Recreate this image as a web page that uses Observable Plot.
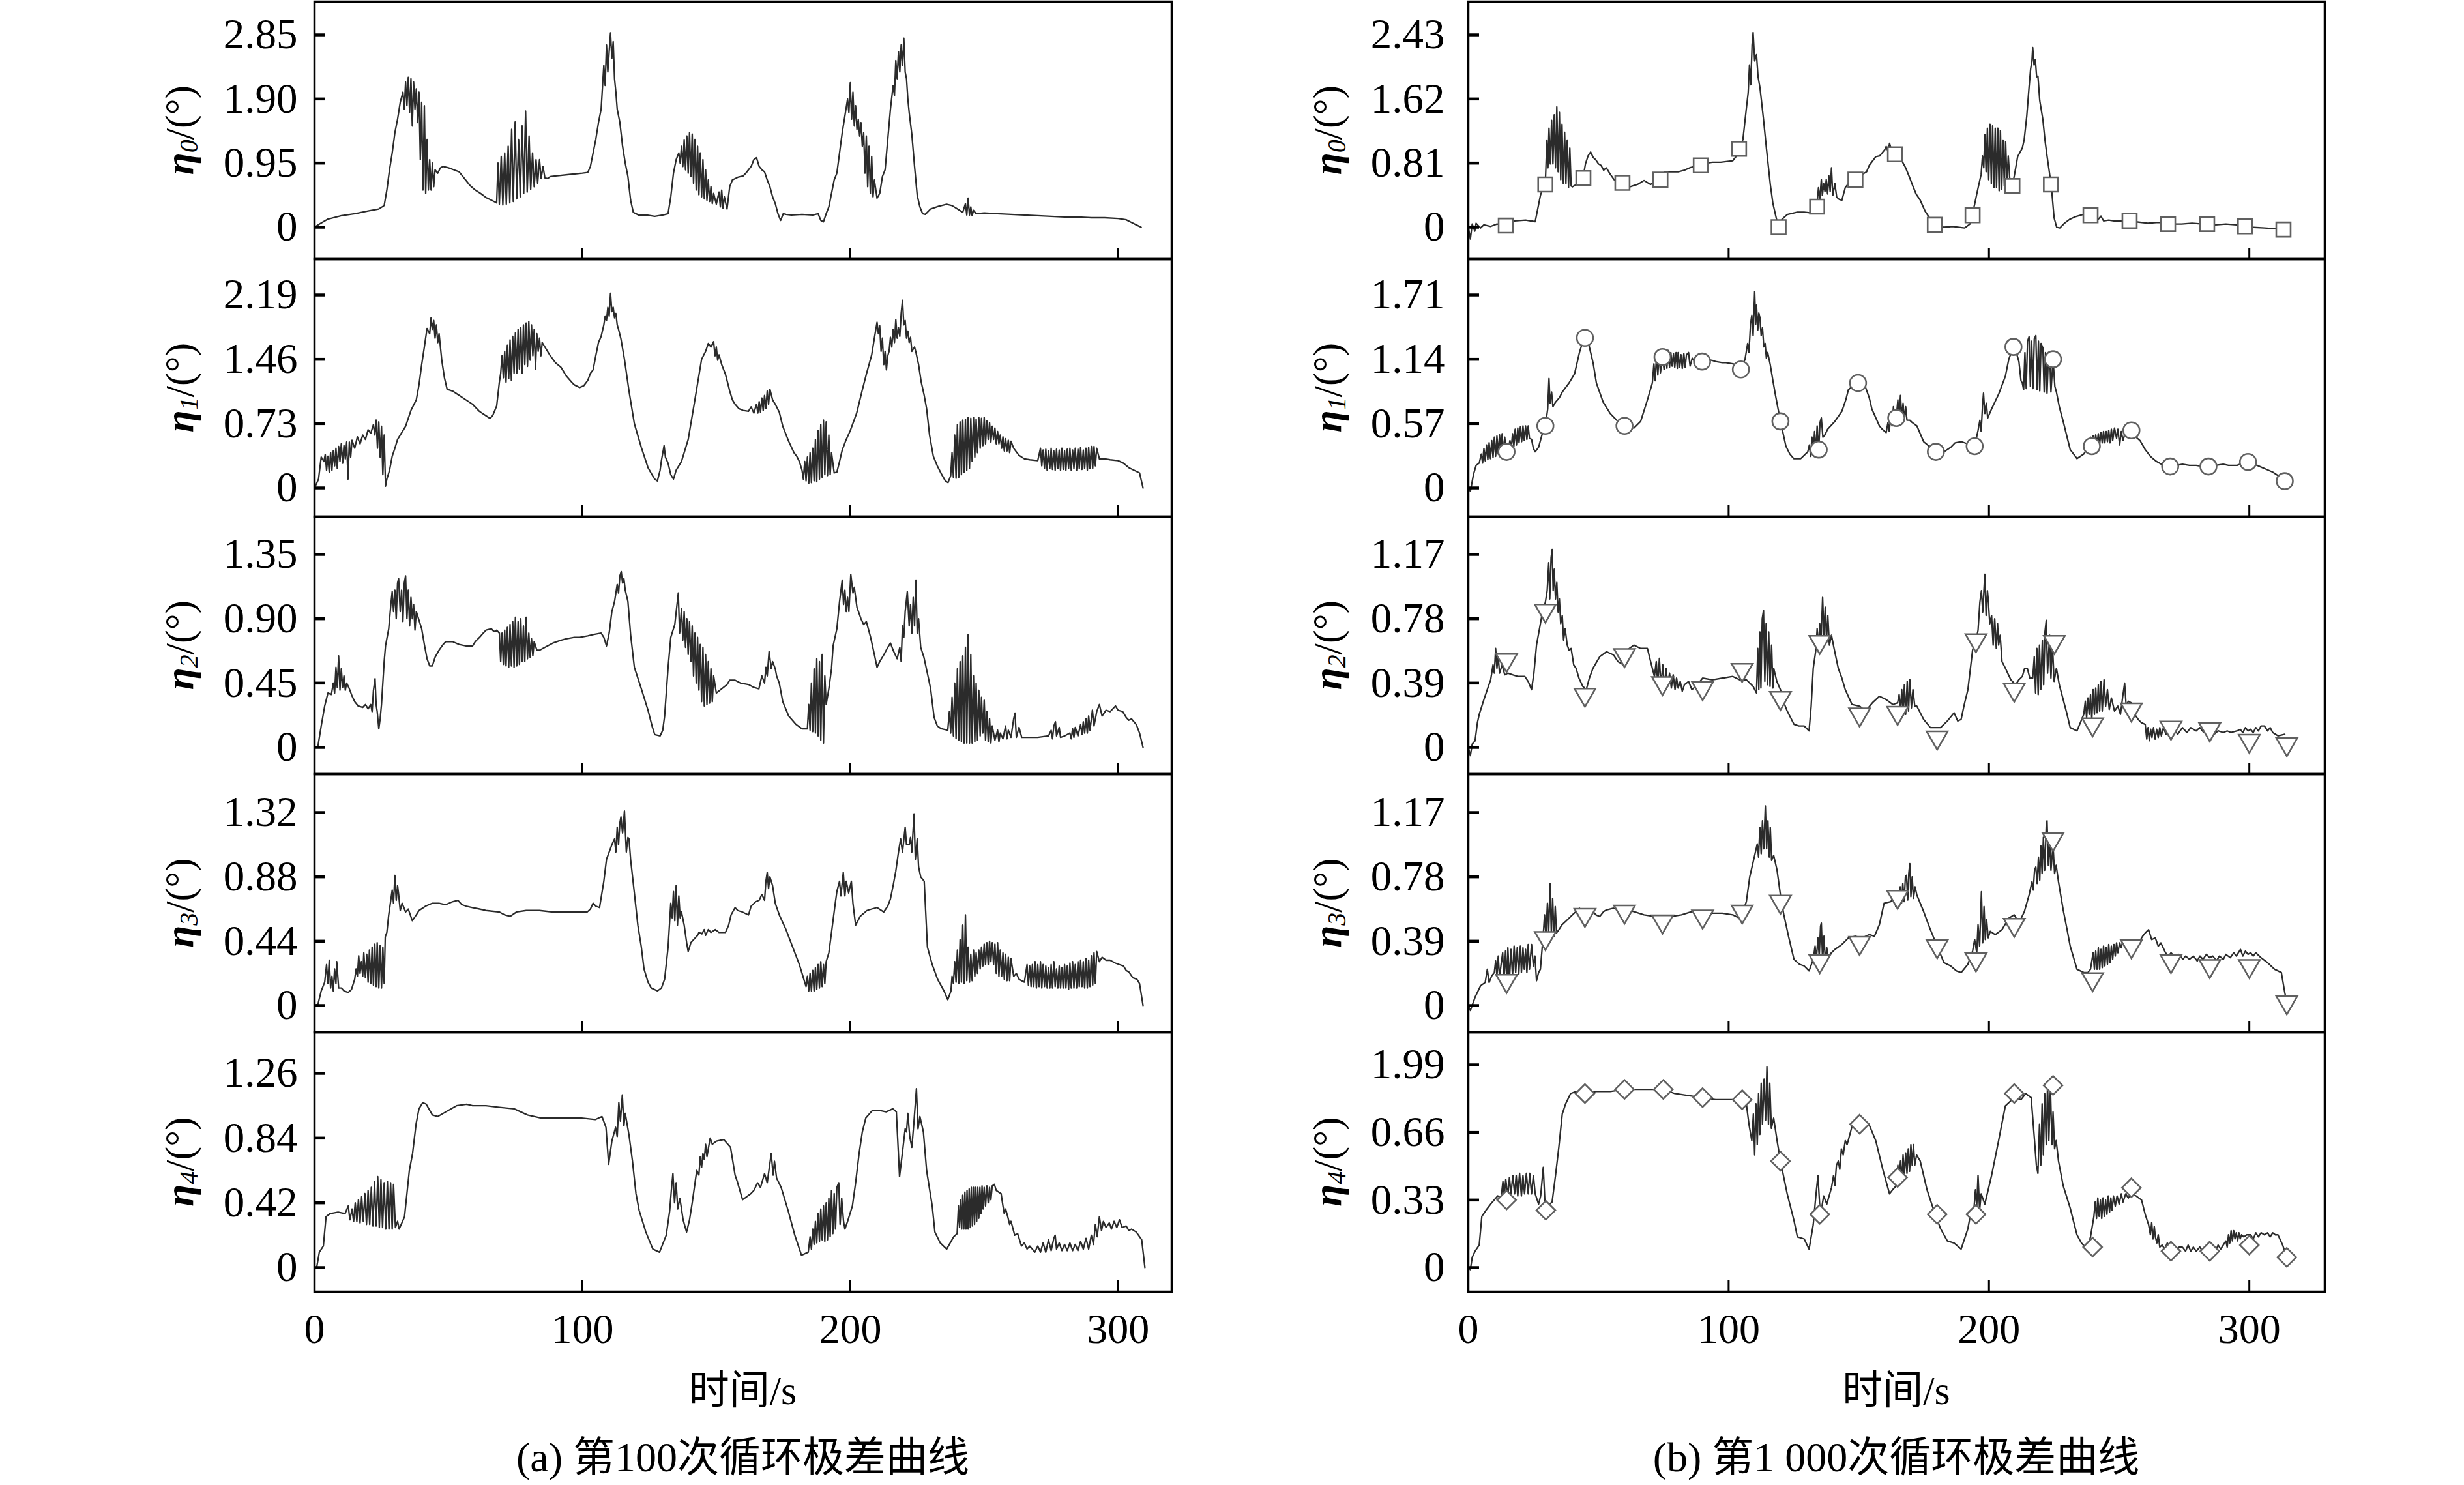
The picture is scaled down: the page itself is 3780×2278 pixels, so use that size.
<!DOCTYPE html>
<html><head><meta charset="utf-8">
<script src="https://cdn.jsdelivr.net/npm/d3@7"></script>
<script src="https://cdn.jsdelivr.net/npm/@observablehq/plot@0.6"></script>
<style>
html,body{margin:0;padding:0;background:#fff;}
#chart{position:relative;width:3780px;height:2278px;overflow:hidden;background:#fff;}
.panel{position:absolute;}
.lbl{position:absolute;transform:translateX(-50%);white-space:nowrap;color:#000;font-family:"Liberation Serif","Noto Sans CJK SC",serif;line-height:1;}
</style></head><body><div id="chart"></div>
<script>
// ---------- tick values & labels ----------
const timeTicks = [0, 100, 200, 300];
const ticksA = [[0,0.95,1.90,2.85],[0,0.73,1.46,2.19],[0,0.45,0.90,1.35],[0,0.44,0.88,1.32],[0,0.42,0.84,1.26]];
const labelsA = [["0","0.95","1.90","2.85"],["0","0.73","1.46","2.19"],["0","0.45","0.90","1.35"],["0","0.44","0.88","1.32"],["0","0.42","0.84","1.26"]];
const ticksB = [[0,0.81,1.62,2.43],[0,0.57,1.14,1.71],[0,0.39,0.78,1.17],[0,0.39,0.78,1.17],[0,0.33,0.66,0.99]];
const labelsB = [["0","0.81","1.62","2.43"],["0","0.57","1.14","1.71"],["0","0.39","0.78","1.17"],["0","0.39","0.78","1.17"],["0","0.33","0.66","1.99"]];
const subs = ["0","1","2","3","4"];
const captions = ["(a) 第100次循环极差曲线", "(b) 第1 000次循环极差曲线"];
const xTitle = "时间/s";

// ---------- (a) 100th cycle: [time s, range deg] ----------
const etaA0 = [[0,0],[2,0.05],[5,0.12],[10,0.17],[15,0.2],[20,0.24],[24,0.27],[26,0.32],[27,0.55],[28,0.85],[29,1.1],[30,1.4],[31,1.6],[32,1.85],[33,2.0],[33.5,1.75],[34,2.15],[34.5,1.8],[35,2.22],[35.5,1.7],[36,2.2],[36.5,1.5],[37,2.15],[37.5,1.75],[38,2.05],[38.5,1.55],[39,2.0],[39.5,1.0],[40,1.85],[40.5,0.55],[41,1.8],[41.5,0.5],[42,1.3],[42.5,0.55],[43,1.0],[43.5,0.55],[44,0.95],[44.5,0.6],[45,0.85],[46,0.8],[47,0.88],[48,0.9],[50,0.88],[52,0.85],[54,0.82],[56,0.72],[58,0.62],[60,0.55],[62,0.5],[64,0.44],[66,0.4],[68,0.36],[68.5,0.95],[69,0.34],[69.7,1.05],[70.3,0.33],[71,1.1],[71.6,0.34],[72.3,1.2],[72.9,0.36],[73.6,1.45],[74.2,0.38],[74.9,1.56],[75.5,0.42],[76.2,1.3],[76.8,0.45],[77.5,1.5],[78.1,0.5],[78.8,1.72],[79.4,0.52],[80.1,1.35],[80.7,0.56],[81.4,1.1],[82,0.6],[82.7,1.0],[83.3,0.65],[84,1.0],[84.6,0.72],[85.3,0.9],[86,0.73],[87,0.72],[88,0.75],[90,0.76],[95,0.78],[100,0.8],[102,0.81],[103,0.9],[104,1.1],[105,1.3],[106,1.55],[107,1.75],[108,2.4],[108.5,2.1],[109,2.7],[109.5,2.3],[110,2.6],[110.5,2.88],[111,2.5],[111.5,2.75],[112,2.2],[112.5,2.0],[113,1.75],[114,1.55],[115,1.2],[116,0.95],[117,0.75],[118,0.4],[119,0.22],[121,0.18],[124,0.18],[127,0.16],[130,0.18],[132,0.2],[133,0.45],[134,0.8],[135,1.0],[136,1.1],[136.5,0.95],[137,1.2],[137.5,0.9],[138,1.3],[138.5,0.85],[139,1.35],[139.5,0.8],[140,1.4],[140.5,0.75],[141,1.38],[141.5,0.65],[142,1.3],[142.5,0.55],[143,1.2],[143.5,0.48],[144,1.1],[144.5,0.45],[145,1.0],[145.5,0.42],[146,0.85],[146.5,0.4],[147,0.7],[147.5,0.38],[148,0.6],[148.5,0.35],[149,0.5],[150,0.34],[151,0.52],[151.5,0.3],[152,0.55],[152.5,0.28],[153,0.45],[154,0.27],[155,0.6],[156,0.7],[157,0.72],[158,0.74],[160,0.76],[161,0.8],[162,0.85],[163,0.9],[164,1.0],[165,1.03],[166,0.9],[167,0.85],[168,0.82],[169,0.7],[170,0.6],[171,0.45],[172,0.35],[173,0.2],[174,0.1],[175,0.2],[176,0.19],[178,0.18],[182,0.19],[186,0.18],[188,0.2],[189,0.1],[190,0.08],[191,0.2],[192,0.3],[193,0.5],[194,0.7],[195,0.8],[196,1.1],[197,1.4],[198,1.65],[199,1.9],[199.5,1.7],[200,2.14],[200.5,1.6],[201,2.0],[201.5,1.5],[202,1.8],[202.5,1.45],[203,1.6],[203.5,1.35],[204,1.55],[204.5,1.2],[205,1.4],[205.5,0.8],[206,1.35],[206.5,0.6],[207,1.2],[207.5,0.5],[208,1.05],[208.5,0.45],[209,0.7],[210,0.43],[211,0.5],[212,0.75],[213,0.85],[214,1.3],[215,1.75],[216,2.1],[216.5,1.95],[217,2.47],[217.5,2.2],[218,2.6],[218.5,2.3],[219,2.7],[219.5,2.4],[220,2.8],[220.5,2.3],[221,2.2],[221.5,1.9],[222,1.7],[223,1.37],[224,0.9],[225,0.47],[226,0.3],[227,0.2],[228,0.19],[230,0.27],[233,0.31],[236,0.34],[238,0.32],[240,0.27],[242,0.22],[243,0.35],[243.5,0.18],[244,0.43],[244.5,0.18],[245,0.3],[245.5,0.17],[246,0.25],[247,0.2],[250,0.21],[255,0.2],[260,0.19],[265,0.18],[270,0.17],[275,0.16],[280,0.15],[285,0.15],[290,0.14],[295,0.14],[300,0.13],[303,0.11],[305,0.07],[307,0.03],[308.6,0.0]];

const etaA1 = [[0,0],[1.5,0.1],[2.5,0.35],[3.5,0.3],[4,0.38],[4.5,0.2],[5,0.36],[5.5,0.18],[6,0.4],[6.5,0.2],[7,0.42],[7.5,0.25],[8,0.45],[8.5,0.22],[9,0.47],[9.5,0.3],[10,0.5],[10.5,0.28],[11,0.48],[11.5,0.33],[12,0.52],[12.5,0.1],[13,0.52],[13.5,0.35],[14,0.54],[15,0.45],[16,0.58],[17,0.5],[18,0.6],[19,0.55],[20,0.66],[21,0.62],[22,0.72],[22.5,0.6],[23,0.77],[23.5,0.45],[24,0.75],[24.5,0.35],[25,0.7],[25.5,0.15],[26,0.6],[26.5,0.02],[27,0.1],[28,0.2],[29,0.36],[30,0.45],[31,0.55],[32,0.6],[34,0.7],[36,0.88],[38,1.0],[39,1.17],[40,1.4],[41,1.6],[42,1.81],[43,1.75],[43.5,1.93],[44,1.8],[44.5,1.9],[45,1.7],[45.5,1.85],[46,1.65],[46.5,1.75],[47.5,1.45],[48.5,1.25],[49.5,1.12],[51.5,1.1],[54,1.05],[56.5,1.0],[59,0.95],[61.5,0.87],[64,0.82],[65.5,0.79],[66.5,0.82],[68,0.93],[69,1.2],[69.5,1.3],[70,1.5],[70.5,1.25],[71,1.55],[71.5,1.2],[72,1.62],[72.5,1.24],[73,1.68],[73.5,1.22],[74,1.72],[74.5,1.3],[75,1.76],[75.5,1.3],[76,1.8],[76.5,1.35],[77,1.82],[77.5,1.3],[78,1.85],[78.5,1.4],[79,1.87],[79.5,1.38],[80,1.89],[80.5,1.45],[81,1.85],[81.5,1.5],[82,1.8],[82.5,1.35],[83,1.75],[83.5,1.55],[84,1.7],[84.5,1.5],[85,1.65],[86,1.6],[87,1.55],[88,1.5],[89,1.46],[90,1.42],[92,1.37],[94,1.27],[96,1.2],[97,1.17],[99,1.14],[100.5,1.16],[102,1.22],[103,1.3],[104,1.34],[105,1.5],[106,1.65],[107,1.72],[108,1.85],[108.5,1.95],[109,1.9],[109.5,2.05],[110,1.95],[110.5,2.21],[111,2.0],[111.5,2.05],[112,1.93],[112.5,1.98],[113,1.85],[113.5,1.8],[114.4,1.69],[115.7,1.46],[117.4,1.1],[119.4,0.73],[122,0.46],[124.5,0.23],[126,0.15],[127,0.1],[128,0.08],[129,0.2],[129.5,0.31],[130.5,0.48],[131,0.35],[132,0.28],[133,0.15],[134,0.1],[135,0.2],[137,0.3],[139.5,0.55],[142,1.0],[144.5,1.46],[146,1.55],[147,1.64],[148,1.6],[149,1.66],[149.5,1.5],[150,1.6],[150.5,1.45],[151,1.51],[152,1.4],[153.4,1.29],[155,1.1],[156,1.0],[157,0.95],[158.4,0.9],[160,0.88],[162,0.87],[163,0.92],[164,0.85],[165,0.95],[165.5,0.85],[166,0.98],[166.5,0.86],[167,1.02],[167.5,0.88],[168,1.05],[168.5,0.9],[169,1.1],[169.5,0.95],[170,1.12],[171,1.0],[172,0.95],[173.5,0.86],[174.8,0.7],[177,0.53],[179,0.4],[180,0.36],[181,0.3],[182,0.2],[182.5,0.1],[183,0.3],[183.5,0.08],[184,0.35],[184.5,0.05],[185,0.4],[185.5,0.06],[186,0.45],[186.5,0.08],[187,0.55],[187.5,0.07],[188,0.65],[188.5,0.1],[189,0.72],[189.5,0.12],[190,0.77],[190.5,0.15],[191,0.75],[191.5,0.14],[192,0.6],[192.5,0.15],[193,0.4],[194,0.17],[195,0.18],[196,0.3],[197,0.43],[198.5,0.55],[200,0.65],[202.4,0.85],[204.4,1.1],[206,1.29],[207,1.4],[208,1.51],[209,1.7],[210,1.88],[210.5,1.75],[211,1.84],[211.5,1.55],[212,1.7],[212.5,1.4],[213,1.55],[213.5,1.34],[214,1.5],[214.5,1.55],[215,1.71],[215.5,1.6],[216,1.8],[216.5,1.65],[217,1.91],[217.5,1.7],[218,1.82],[218.5,1.72],[219,1.98],[219.5,2.13],[220,1.85],[220.5,1.9],[221,1.7],[221.5,1.78],[222,1.65],[222.5,1.71],[223,1.55],[224,1.6],[224.5,1.54],[225.5,1.4],[226.5,1.2],[227.6,1.05],[228.5,0.9],[229.6,0.6],[231,0.36],[232.5,0.25],[234,0.16],[235.5,0.08],[236.5,0.06],[237.5,0.14],[238,0.4],[238.5,0.12],[239,0.6],[239.5,0.11],[240,0.72],[240.5,0.12],[241,0.75],[241.5,0.15],[242,0.77],[242.5,0.18],[243,0.78],[243.5,0.2],[244,0.8],[244.5,0.22],[245,0.79],[245.5,0.3],[246,0.8],[246.5,0.35],[247,0.78],[247.5,0.4],[248,0.8],[248.5,0.45],[249,0.79],[249.5,0.48],[250,0.8],[250.5,0.5],[251,0.76],[251.5,0.55],[252,0.74],[252.5,0.52],[253,0.7],[253.5,0.55],[254,0.68],[254.5,0.5],[255,0.64],[255.5,0.5],[256,0.6],[256.5,0.45],[257,0.58],[257.5,0.42],[258,0.56],[258.5,0.42],[259,0.54],[259.5,0.4],[260,0.53],[261,0.45],[262,0.41],[263,0.37],[265,0.33],[267,0.32],[270,0.31],[271,0.45],[271.5,0.25],[272,0.43],[272.5,0.22],[273,0.44],[273.5,0.2],[274,0.42],[274.5,0.22],[275,0.45],[275.5,0.21],[276,0.42],[276.5,0.2],[277,0.44],[277.5,0.22],[278,0.43],[278.5,0.2],[279,0.45],[279.5,0.21],[280,0.42],[280.5,0.2],[281,0.44],[281.5,0.22],[282,0.45],[282.5,0.2],[283,0.43],[283.5,0.22],[284,0.45],[284.5,0.2],[285,0.44],[285.5,0.22],[286,0.46],[286.5,0.21],[287,0.43],[287.5,0.22],[288,0.45],[288.5,0.2],[289,0.46],[289.5,0.22],[290,0.47],[290.5,0.22],[291,0.47],[291.5,0.25],[292,0.45],[293,0.33],[295,0.33],[297,0.32],[300,0.31],[302,0.28],[304,0.23],[306,0.2],[308,0.17],[309.3,0.0]];

const etaA2 = [[0,0],[1.3,0.01],[2.5,0.15],[3.8,0.29],[5,0.38],[6.3,0.37],[7,0.45],[7.5,0.38],[8,0.56],[8.5,0.42],[9,0.64],[9.5,0.4],[10,0.55],[10.5,0.42],[11,0.5],[11.5,0.4],[12,0.45],[13,0.41],[14,0.36],[15,0.32],[16.3,0.29],[18,0.28],[19,0.3],[20,0.27],[21,0.3],[21.5,0.25],[22,0.4],[22.6,0.48],[23,0.3],[23.4,0.25],[24,0.13],[24.5,0.2],[25,0.3],[26,0.6],[26.5,0.71],[27.7,0.83],[28.5,1.0],[29,1.09],[29.5,0.95],[30,1.1],[30.5,0.9],[31,1.15],[31.4,1.18],[32,0.95],[32.5,1.1],[33,0.88],[33.5,1.15],[34,1.2],[34.5,0.9],[35,1.1],[35.5,0.85],[36,1.05],[36.5,0.9],[37,1.0],[37.5,0.82],[38,0.95],[39,0.89],[40,0.83],[41,0.72],[42,0.62],[43,0.57],[44,0.57],[45,0.63],[46.5,0.68],[48,0.72],[49,0.74],[51.5,0.74],[54,0.72],[56.6,0.71],[59,0.71],[60,0.74],[61.6,0.77],[63,0.8],[64,0.82],[66,0.83],[67,0.81],[68,0.82],[69,0.8],[69.5,0.6],[70,0.8],[70.5,0.58],[71,0.82],[71.5,0.57],[72,0.84],[72.5,0.56],[73,0.86],[73.5,0.57],[74,0.88],[74.5,0.56],[75,0.91],[75.5,0.57],[76,0.88],[76.5,0.58],[77,0.9],[77.5,0.6],[78,0.85],[78.5,0.6],[79,0.91],[79.5,0.62],[80,0.8],[80.5,0.63],[81,0.76],[81.5,0.64],[82,0.74],[83,0.68],[84,0.68],[86,0.7],[89,0.73],[92,0.75],[94,0.76],[97,0.77],[99,0.77],[102,0.78],[104,0.79],[107,0.8],[108,0.77],[109,0.71],[110,0.8],[111,0.95],[112,1.02],[113,1.14],[113.5,1.08],[114,1.2],[114.5,1.23],[115,1.15],[115.5,1.18],[116,1.1],[117,1.02],[118,0.79],[119.4,0.56],[122,0.41],[124.5,0.26],[126,0.15],[127,0.09],[129,0.08],[130,0.12],[130.7,0.22],[132,0.56],[133,0.77],[134.5,0.86],[135.8,1.08],[136.3,0.8],[137,0.97],[137.5,0.75],[138,0.95],[138.5,0.7],[139,0.9],[139.5,0.65],[140,0.88],[140.5,0.6],[141,0.85],[141.5,0.5],[142,0.8],[142.5,0.45],[143,0.77],[143.5,0.4],[144,0.72],[144.5,0.32],[145,0.7],[145.5,0.29],[146,0.65],[146.5,0.3],[147,0.6],[147.5,0.31],[148,0.55],[148.5,0.32],[149,0.5],[150,0.38],[152,0.41],[154,0.44],[155,0.47],[157,0.47],[159,0.45],[162,0.44],[164,0.42],[165.9,0.41],[167,0.5],[168,0.45],[168.5,0.56],[169,0.5],[169.7,0.67],[170.5,0.55],[171,0.6],[172,0.55],[172.5,0.5],[173.5,0.45],[174.8,0.32],[177,0.22],[179.8,0.16],[182,0.13],[184,0.13],[184.5,0.3],[185,0.12],[185.5,0.45],[186,0.11],[186.5,0.55],[187,0.1],[187.5,0.62],[188,0.08],[188.5,0.6],[189,0.05],[189.5,0.65],[190,0.03],[190.5,0.5],[191,0.3],[192,0.41],[193,0.55],[193.6,0.71],[195,0.83],[196,1.02],[197,1.17],[197.5,1.0],[198,1.1],[198.5,0.95],[199,1.05],[199.5,0.95],[200.2,1.21],[201,1.08],[201.5,1.12],[202.5,0.98],[204,0.9],[205,0.86],[206,0.88],[207.6,0.77],[209,0.65],[210,0.56],[211,0.6],[212.6,0.65],[214,0.7],[215,0.73],[216,0.68],[217.5,0.62],[218.5,0.7],[219,0.6],[219.5,0.85],[220,0.77],[220.5,0.95],[221.3,1.09],[222,0.85],[222.5,1.0],[223,0.8],[223.5,1.05],[224,0.85],[224.5,1.17],[225,0.8],[225.5,0.9],[226.3,0.7],[227.5,0.63],[229,0.5],[230,0.41],[231.3,0.21],[232.5,0.15],[234,0.13],[236.4,0.12],[237,0.25],[237.5,0.1],[238,0.35],[238.5,0.08],[239,0.45],[239.5,0.06],[240,0.55],[240.5,0.05],[241,0.6],[241.5,0.04],[242,0.64],[242.5,0.03],[243,0.7],[243.5,0.03],[244,0.79],[244.5,0.03],[245,0.65],[245.5,0.03],[246,0.5],[246.5,0.04],[247,0.45],[247.5,0.05],[248,0.4],[248.5,0.08],[249,0.35],[249.5,0.1],[250,0.33],[250.5,0.05],[251,0.25],[251.5,0.04],[252,0.2],[252.5,0.03],[253,0.15],[254,0.05],[255,0.12],[255.5,0.04],[256,0.1],[257,0.06],[258,0.15],[258.5,0.06],[259,0.12],[260,0.07],[261,0.2],[261.5,0.24],[262,0.07],[263,0.14],[264,0.07],[266,0.07],[270,0.07],[274,0.08],[275,0.12],[275.5,0.06],[276,0.15],[276.6,0.18],[277,0.08],[278,0.14],[278.5,0.07],[280,0.08],[282,0.1],[282.5,0.06],[283,0.13],[283.5,0.07],[284,0.14],[285,0.08],[286,0.16],[286.5,0.09],[287,0.18],[287.5,0.1],[288,0.2],[288.5,0.1],[289,0.22],[289.5,0.12],[290.4,0.26],[291,0.15],[292,0.25],[293,0.3],[294,0.22],[295.5,0.26],[297,0.25],[299,0.29],[300,0.26],[301.7,0.25],[303,0.21],[304,0.19],[305,0.2],[306.8,0.16],[308,0.1],[309.3,0.0]];

const etaA3 = [[0,0],[1.3,0.01],[2.5,0.1],[3.8,0.16],[4.5,0.28],[5,0.15],[5.5,0.31],[6,0.12],[6.5,0.2],[7,0.1],[7.5,0.25],[8,0.15],[8.3,0.3],[9,0.12],[10,0.12],[11,0.1],[12.6,0.09],[13.8,0.11],[15,0.18],[15.5,0.25],[16,0.2],[16.5,0.34],[17,0.22],[17.5,0.3],[18,0.2],[18.4,0.36],[19,0.19],[19.5,0.35],[20,0.16],[20.5,0.38],[21,0.15],[21.5,0.4],[22,0.14],[22.5,0.42],[23,0.13],[23.4,0.43],[24,0.12],[24.5,0.41],[25,0.12],[25.5,0.4],[26,0.15],[26.4,0.47],[27,0.5],[27.7,0.62],[29,0.79],[29.5,0.7],[30,0.89],[30.5,0.72],[31,0.82],[31.4,0.76],[32,0.65],[32.7,0.7],[34,0.64],[35,0.66],[36.5,0.58],[38,0.62],[39,0.65],[41.5,0.68],[44,0.7],[46.5,0.7],[49,0.69],[51.5,0.71],[53.5,0.72],[55,0.69],[56.6,0.68],[59,0.67],[61.6,0.66],[64,0.65],[69,0.64],[71,0.62],[73,0.61],[75.4,0.64],[79,0.65],[84,0.65],[89,0.64],[94,0.64],[99,0.64],[101.8,0.64],[103,0.66],[104,0.7],[105,0.68],[106.4,0.67],[108,0.85],[109,1.0],[110,1.05],[111,1.1],[112,1.14],[112.5,1.05],[113,1.22],[113.5,1.1],[114,1.25],[114.4,1.29],[115,1.18],[115.7,1.33],[116.4,1.05],[117,1.15],[117.4,1.14],[118,1.0],[119.4,0.77],[120.7,0.55],[122,0.4],[123,0.25],[124.5,0.16],[125.7,0.12],[128,0.1],[129.5,0.12],[130.7,0.18],[132,0.4],[133,0.7],[133.5,0.6],[134,0.78],[134.5,0.58],[135,0.82],[135.5,0.55],[136,0.75],[136.5,0.6],[137,0.64],[138,0.55],[139,0.42],[139.5,0.37],[140.5,0.43],[142,0.46],[143,0.48],[143.5,0.5],[144.6,0.49],[145.5,0.52],[146,0.48],[147,0.52],[148,0.5],[149.6,0.52],[151,0.5],[153.4,0.5],[154.6,0.55],[155.5,0.62],[157,0.67],[158,0.65],[159.7,0.64],[162,0.62],[163,0.68],[164.7,0.71],[166,0.72],[167,0.76],[168,0.72],[168.5,0.85],[169,0.91],[169.5,0.8],[170,0.88],[171,0.82],[172,0.7],[173.5,0.62],[176,0.52],[178.5,0.4],[181,0.28],[182,0.22],[183.5,0.13],[184,0.2],[184.5,0.1],[185,0.22],[185.5,0.1],[186,0.24],[186.5,0.1],[187,0.26],[187.5,0.11],[188,0.28],[188.5,0.12],[189,0.3],[189.5,0.13],[190,0.28],[190.5,0.15],[191,0.3],[192,0.36],[193,0.5],[194.4,0.7],[195,0.78],[196,0.85],[196.5,0.75],[197.4,0.91],[198,0.75],[198.5,0.85],[199.4,0.77],[200.4,0.85],[201,0.7],[202,0.55],[203.7,0.61],[205,0.63],[206.2,0.65],[208,0.66],[210,0.67],[212.5,0.64],[214,0.68],[215,0.73],[216,0.82],[217,0.92],[218,1.05],[218.8,1.14],[219.5,1.05],[220.5,1.22],[221,1.1],[222,1.1],[222.5,1.15],[223,1.05],[223.8,1.31],[224.3,1.0],[225,1.14],[225.5,0.95],[226.3,0.88],[227.6,0.85],[228.8,0.4],[230.6,0.28],[232.6,0.18],[235,0.1],[236.4,0.04],[237.6,0.1],[238,0.2],[238.5,0.15],[239,0.3],[239.5,0.16],[240,0.38],[240.5,0.15],[241,0.45],[241.5,0.16],[242,0.55],[242.5,0.15],[243,0.62],[243.5,0.17],[244,0.4],[244.5,0.16],[245,0.35],[245.5,0.17],[246,0.38],[246.5,0.2],[247,0.36],[247.5,0.22],[248,0.38],[248.5,0.25],[249,0.4],[249.5,0.27],[250,0.42],[250.5,0.28],[251,0.43],[251.5,0.28],[252,0.44],[252.5,0.3],[253,0.43],[253.5,0.28],[254,0.42],[254.5,0.22],[255,0.43],[255.5,0.2],[256,0.38],[256.5,0.2],[257,0.36],[257.5,0.18],[258,0.35],[258.5,0.17],[259,0.33],[259.5,0.17],[260,0.32],[261,0.2],[262,0.22],[263,0.18],[265,0.16],[266,0.28],[266.5,0.14],[267,0.27],[267.5,0.13],[268,0.28],[268.5,0.13],[269,0.3],[269.5,0.12],[270,0.28],[270.5,0.13],[271,0.3],[271.5,0.12],[272,0.28],[272.5,0.13],[273,0.27],[273.5,0.12],[274,0.26],[274.5,0.12],[275,0.28],[275.5,0.12],[276,0.3],[276.5,0.13],[277,0.25],[277.5,0.12],[278,0.27],[278.5,0.12],[279,0.26],[279.5,0.12],[280,0.28],[280.5,0.12],[281,0.27],[281.5,0.11],[282,0.29],[282.5,0.12],[283,0.3],[283.5,0.12],[284,0.28],[284.5,0.12],[285,0.3],[285.5,0.13],[286,0.31],[286.5,0.13],[287,0.3],[287.5,0.12],[288,0.32],[288.5,0.12],[289,0.31],[289.5,0.13],[290,0.34],[290.5,0.14],[291,0.36],[291.5,0.15],[292,0.37],[293,0.3],[294,0.33],[295.5,0.31],[297,0.31],[299,0.29],[300.5,0.28],[302,0.27],[303,0.24],[304,0.23],[305.5,0.19],[307,0.18],[308,0.15],[309.3,0.0]];

const etaA4 = [[0,0],[0.8,0.0],[1.8,0.1],[3.3,0.14],[4.3,0.33],[5.8,0.35],[8.8,0.36],[11.4,0.35],[12.6,0.4],[13.2,0.31],[14,0.38],[14.6,0.3],[15.2,0.42],[15.8,0.3],[16.4,0.44],[17,0.29],[17.6,0.46],[18.2,0.3],[18.8,0.48],[19.4,0.28],[20,0.5],[20.6,0.28],[21.2,0.52],[21.8,0.27],[22.4,0.56],[23,0.27],[23.6,0.59],[24.2,0.26],[24.8,0.57],[25.4,0.26],[26,0.55],[26.6,0.25],[27.2,0.56],[27.8,0.25],[28.4,0.55],[29,0.25],[29.5,0.54],[30.2,0.26],[31,0.3],[31.6,0.25],[33.6,0.33],[35.4,0.63],[36.6,0.74],[37.9,0.93],[39,1.03],[40.4,1.07],[41.7,1.06],[43,1.02],[44,0.99],[46,0.98],[49,1.01],[53,1.05],[56.8,1.06],[59,1.05],[64,1.05],[69,1.04],[74.5,1.03],[79.5,0.99],[84.6,0.97],[89.6,0.97],[94.7,0.97],[99.7,0.97],[104.8,0.96],[107.3,0.98],[108.8,0.91],[109.8,0.67],[111,0.82],[112.4,0.91],[113,0.85],[113.6,1.07],[114.2,0.95],[114.9,1.12],[115.5,0.92],[116,1.0],[117.4,0.86],[118.7,0.69],[120,0.48],[121.2,0.37],[123.7,0.23],[126.3,0.12],[128.8,0.1],[131.3,0.21],[132.6,0.37],[133.2,0.5],[133.8,0.61],[134.4,0.42],[135,0.55],[135.6,0.38],[136.4,0.45],[137.6,0.31],[138.9,0.23],[140,0.31],[141,0.42],[142.7,0.63],[143.5,0.6],[144,0.72],[144.5,0.65],[145,0.74],[145.5,0.7],[146,0.8],[146.5,0.72],[147.7,0.84],[148.5,0.8],[150,0.82],[152.8,0.83],[155.3,0.78],[157,0.6],[157.8,0.56],[159.8,0.44],[162.9,0.48],[164,0.5],[165.4,0.55],[166.5,0.52],[168,0.61],[169,0.55],[170.5,0.74],[171.2,0.6],[171.7,0.69],[172.5,0.58],[174.2,0.52],[176.8,0.37],[179.3,0.21],[181.8,0.08],[184.3,0.1],[185,0.2],[185.5,0.12],[186,0.25],[186.5,0.15],[187,0.3],[187.5,0.16],[188,0.35],[188.5,0.17],[189,0.38],[189.5,0.18],[190,0.4],[190.5,0.17],[191,0.42],[191.5,0.18],[192,0.45],[192.5,0.2],[193,0.5],[193.5,0.22],[194,0.48],[194.5,0.25],[195,0.52],[195.7,0.55],[196.2,0.28],[196.8,0.45],[197.5,0.3],[198,0.25],[199,0.3],[200.8,0.4],[202,0.55],[203.3,0.74],[204.5,0.88],[205.8,0.97],[208.3,1.02],[210.9,1.02],[213.4,1.01],[215.9,1.03],[217.2,1.01],[218.4,0.59],[219.7,0.78],[220.5,0.9],[221,0.88],[221.5,1.0],[222.2,0.85],[223,0.78],[223.8,0.95],[224.7,1.16],[225.3,0.9],[226,0.98],[227.3,0.88],[228.5,0.63],[230.6,0.4],[231.6,0.23],[233.6,0.16],[236,0.12],[238.6,0.2],[239.9,0.22],[240.4,0.4],[240.8,0.26],[241.2,0.44],[241.6,0.25],[242,0.47],[242.4,0.25],[242.8,0.49],[243.2,0.25],[243.6,0.5],[244,0.25],[244.4,0.51],[244.8,0.26],[245.2,0.52],[245.6,0.27],[246,0.52],[246.4,0.28],[246.8,0.52],[247.2,0.3],[247.6,0.52],[248,0.32],[248.4,0.52],[248.8,0.35],[249.2,0.53],[249.6,0.38],[250,0.52],[250.5,0.4],[251,0.53],[251.5,0.42],[252,0.52],[252.5,0.44],[253,0.53],[253.8,0.54],[254.5,0.5],[256.3,0.48],[257,0.4],[257.5,0.35],[258,0.38],[258.8,0.33],[259.5,0.28],[260,0.3],[261.4,0.21],[262.5,0.22],[263.9,0.14],[265,0.16],[266,0.12],[267,0.14],[268.9,0.1],[270,0.14],[271,0.1],[272,0.16],[273,0.1],[274,0.18],[275,0.11],[276,0.19],[276.5,0.21],[277,0.12],[278,0.16],[279,0.11],[280,0.15],[281,0.11],[282,0.16],[283,0.11],[284,0.15],[285,0.11],[286,0.17],[287,0.12],[288,0.19],[289,0.12],[290,0.21],[290.8,0.15],[291.5,0.28],[292.2,0.2],[293,0.33],[293.8,0.24],[294.5,0.3],[295.5,0.26],[296.7,0.29],[297.5,0.25],[298.5,0.3],[299.5,0.26],[300.5,0.31],[301.5,0.26],[303,0.27],[304,0.24],[305,0.25],[306.8,0.23],[308,0.2],[308.8,0.18],[310,0.0]];

// ---------- (b) 1000th cycle ----------
const etaB0 = [[0,0.0],[0.8,-0.15],[1.5,0.04],[2.5,-0.05],[3,0.05],[4.7,-0.01],[6,0.03],[8.6,0.01],[11,0.04],[14.4,0.03],[17.8,0.08],[22,0.09],[25.7,0.07],[27.7,0.4],[28.7,0.5],[29.6,0.56],[30.2,1.1],[30.6,0.75],[31,1.25],[31.5,0.8],[32,1.35],[32.5,0.8],[33,1.42],[33.5,0.75],[34,1.52],[34.5,0.7],[35,1.45],[35.5,0.6],[36,1.3],[36.5,0.55],[37,1.2],[37.5,0.55],[38,1.1],[38.5,0.5],[39,1.0],[39.5,0.52],[40,0.51],[41,0.53],[42.7,0.55],[44,0.61],[45,0.8],[46,0.9],[47,0.95],[48,0.88],[49,0.85],[50,0.8],[51,0.78],[52,0.72],[53,0.75],[54.5,0.67],[56,0.6],[57.5,0.56],[59,0.55],[61,0.5],[63,0.52],[65,0.54],[67.5,0.59],[70,0.54],[72,0.58],[73,0.6],[75.4,0.7],[78,0.7],[80.6,0.7],[83,0.72],[85,0.75],[88.5,0.78],[90,0.8],[93.7,0.82],[97,0.82],[101.6,0.84],[103,0.9],[104.5,1.0],[105.5,1.11],[106.8,1.5],[107.5,1.7],[108,2.05],[108.5,1.8],[109,2.3],[109.4,2.46],[110,2.1],[110.7,2.18],[111.3,1.9],[112,1.77],[112.6,1.6],[113.4,1.36],[114.5,1.0],[116,0.54],[117,0.3],[118.6,0.07],[119.5,0.0],[120.5,0.1],[122.5,0.16],[126.4,0.19],[129,0.19],[131.7,0.18],[133,0.22],[134,0.3],[134.5,0.5],[135,0.35],[135.6,0.6],[136,0.4],[136.5,0.55],[137,0.45],[137.5,0.6],[138,0.42],[138.5,0.65],[139,0.45],[139.5,0.75],[140,0.4],[140.8,0.55],[141.5,0.38],[142.5,0.35],[143.5,0.34],[144.8,0.5],[146,0.55],[147.5,0.55],[149,0.6],[151,0.66],[153,0.7],[154,0.78],[156.5,0.89],[158,0.9],[159,0.94],[160,0.98],[160.5,1.02],[161.3,0.95],[161.8,1.06],[162.5,0.98],[163.2,1.0],[163.9,0.93],[165,0.9],[166,0.88],[167,0.81],[168,0.75],[169.6,0.62],[171,0.5],[172,0.42],[173.6,0.34],[175.5,0.2],[177.5,0.1],[180,0.03],[182.7,0.0],[186,0.01],[190.6,-0.01],[192.7,0.04],[194.5,0.29],[195.5,0.45],[197,0.67],[197.5,0.9],[198,0.75],[198.4,1.17],[198.9,0.7],[199.4,1.25],[199.9,0.6],[200.4,1.3],[200.9,0.55],[201.4,1.28],[201.9,0.5],[202.4,1.25],[202.9,0.5],[203.4,1.25],[203.9,0.46],[204.4,1.22],[204.9,0.48],[205.4,1.1],[205.9,0.52],[206.4,1.08],[206.9,0.55],[207.4,0.9],[208,0.6],[209,0.52],[210,0.7],[211,0.89],[212.8,1.0],[213.5,1.1],[214.5,1.4],[215.4,1.77],[216,2.0],[216.5,2.1],[216.8,2.27],[217.3,2.05],[217.8,2.12],[218.3,1.9],[218.8,1.91],[219.5,1.6],[220.7,1.36],[221.5,1.1],[222.3,0.9],[223.3,0.67],[224,0.5],[225,0.12],[226,0.0],[227.2,-0.01],[229,0.05],[231,0.1],[233,0.13],[235,0.15],[237,0.17],[239,0.17],[240,0.15],[241,0.18],[242,0.1],[243,0.14],[244,0.08],[246,0.09],[248,0.08],[252,0.08],[256,0.07],[261,0.05],[265,0.06],[270,0.04],[274,0.04],[278,0.05],[282,0.04],[287,0.03],[291,0.04],[295,0.03],[300.5,0.0],[305.8,-0.01],[310,-0.02],[313.6,-0.03]];
const markB0 = [[14.4,0.02],[29.6,0.54],[44.2,0.62],[59.2,0.56],[73.8,0.6],[89.3,0.78],[104,0.99],[119.2,0.0],[134,0.26],[148.7,0.6],[163.9,0.92],[179.2,0.03],[193.7,0.15],[209,0.52],[223.8,0.54],[239,0.15],[254,0.08],[268.8,0.04],[283.8,0.04],[298.4,0.01],[313.1,-0.03]];

const etaB1 = [[0,0],[0.8,-0.03],[2,0.12],[3,0.2],[4.2,0.22],[5,0.3],[5.5,0.22],[6,0.35],[6.5,0.24],[7,0.38],[7.5,0.25],[8,0.4],[8.5,0.26],[9,0.42],[9.5,0.27],[10,0.45],[10.5,0.28],[11,0.46],[11.5,0.3],[12,0.47],[12.5,0.32],[13,0.48],[13.5,0.3],[14,0.45],[14.5,0.33],[15.2,0.32],[16,0.42],[16.5,0.35],[17,0.48],[17.5,0.37],[18,0.52],[18.5,0.38],[19,0.53],[19.5,0.4],[20,0.54],[20.5,0.41],[21,0.55],[21.5,0.42],[22,0.55],[22.5,0.43],[23,0.55],[23.5,0.44],[24.3,0.43],[25,0.35],[25.7,0.32],[27,0.36],[28.3,0.47],[29.6,0.55],[30.5,0.7],[31,0.97],[31.4,0.75],[32,0.85],[32.5,0.72],[33.5,0.76],[35,0.8],[36.1,0.85],[38.7,0.93],[40.8,1.01],[42.7,1.2],[44,1.3],[44.8,1.33],[45.5,1.34],[46.6,1.24],[48,1.1],[49.2,0.93],[51.8,0.76],[54.5,0.66],[57,0.6],[60,0.55],[62,0.54],[63.6,0.53],[66.2,0.59],[68.8,0.78],[70.7,0.93],[71.3,1.1],[71.8,0.95],[72.3,1.18],[72.8,1.0],[73.3,1.2],[73.8,1.02],[74.6,1.16],[75.2,1.05],[75.8,1.2],[76.3,1.06],[76.7,1.22],[77.3,1.07],[77.8,1.2],[78.3,1.08],[78.8,1.19],[79.3,1.07],[79.8,1.2],[80.3,1.06],[80.6,1.2],[81.2,1.07],[81.7,1.18],[82.2,1.06],[82.8,1.19],[83.3,1.07],[83.8,1.18],[84.6,1.2],[85.2,1.08],[86,1.15],[87,1.12],[88,1.16],[89.8,1.12],[91,1.14],[93.7,1.13],[95,1.12],[97.6,1.11],[99,1.11],[101.6,1.1],[103,1.09],[104.7,1.05],[106.3,1.14],[107.3,1.28],[107.8,1.2],[108.4,1.45],[108.9,1.53],[109.4,1.35],[110,1.74],[110.4,1.45],[110.7,1.62],[111.2,1.4],[111.6,1.55],[112,1.51],[112.5,1.35],[113,1.42],[113.5,1.25],[114,1.28],[114.5,1.15],[115,1.2],[116,1.09],[117,0.95],[118,0.82],[119.9,0.59],[122,0.37],[123.5,0.3],[125,0.26],[127.7,0.26],[130.4,0.32],[131,0.38],[131.5,0.28],[132,0.45],[132.5,0.3],[133,0.5],[133.5,0.32],[134,0.55],[134.6,0.34],[135.1,0.58],[135.6,0.62],[136.2,0.45],[137,0.47],[138,0.52],[140.8,0.59],[143.5,0.68],[145,0.78],[146,0.87],[148,0.91],[149.7,0.93],[151,0.92],[152.6,0.89],[154,0.8],[155,0.7],[157.9,0.55],[159,0.52],[160.5,0.49],[161.2,0.58],[161.7,0.5],[162.3,0.65],[162.8,0.55],[163.3,0.72],[163.8,0.6],[164.4,0.62],[165,0.78],[165.5,0.6],[166,0.82],[166.5,0.62],[167,0.75],[167.5,0.6],[168,0.72],[168.5,0.6],[169.6,0.6],[170.5,0.58],[172.3,0.55],[174.9,0.41],[177.5,0.36],[179.6,0.32],[182.7,0.32],[185.3,0.36],[187,0.4],[189.3,0.41],[191.9,0.39],[194.5,0.37],[195.8,0.51],[196.5,0.6],[197,0.5],[197.5,0.72],[197.9,0.84],[198.4,0.66],[199,0.75],[199.5,0.62],[201,0.7],[203.7,0.83],[206.3,0.99],[207.6,1.14],[209.4,1.25],[210.5,1.2],[211.5,1.12],[212.3,0.95],[212.8,0.93],[213.3,0.87],[213.8,1.2],[214.3,0.88],[214.8,1.3],[215.4,1.34],[215.9,0.9],[216.4,1.3],[216.9,0.88],[217.4,1.32],[218,1.35],[218.5,0.87],[219,1.3],[219.5,0.86],[220,1.28],[220.7,1.24],[221.2,0.85],[221.7,1.2],[222.3,0.84],[222.8,1.15],[223.3,1.2],[223.8,0.85],[224.6,1.14],[225.3,0.9],[225.9,0.85],[227,0.72],[228.5,0.59],[230,0.45],[231.2,0.34],[233.8,0.26],[236.4,0.3],[237.5,0.34],[238,0.42],[238.5,0.35],[239,0.45],[239.5,0.37],[240,0.46],[240.5,0.38],[241,0.47],[241.5,0.39],[242,0.48],[242.5,0.39],[243,0.49],[243.5,0.4],[244,0.5],[244.5,0.4],[245,0.5],[245.5,0.41],[246,0.51],[246.5,0.4],[247,0.52],[247.5,0.42],[248.2,0.53],[249,0.44],[249.5,0.52],[250.2,0.38],[250.8,0.5],[251.5,0.42],[252.5,0.51],[253.5,0.5],[254.7,0.51],[256.5,0.45],[258,0.42],[260,0.34],[262,0.28],[264,0.24],[267,0.2],[269.6,0.19],[272,0.2],[274.3,0.21],[277,0.2],[279.6,0.2],[282,0.19],[284.3,0.19],[287,0.2],[290,0.21],[292,0.2],[295.3,0.2],[297.5,0.22],[299.5,0.23],[301,0.21],[303,0.2],[305,0.18],[307,0.16],[309,0.14],[311,0.11],[313.6,0.06]];
const markB1 = [[14.7,0.32],[29.6,0.55],[44.8,1.33],[60,0.55],[74.6,1.16],[89.8,1.12],[104.7,1.05],[119.9,0.59],[134.6,0.34],[149.7,0.93],[164.4,0.62],[179.6,0.32],[194.5,0.37],[209.4,1.25],[224.6,1.14],[239.5,0.37],[254.7,0.51],[269.6,0.19],[284.3,0.19],[299.5,0.23],[313.6,0.06]];

const etaB2 = [[0,0],[0.8,-0.05],[1.5,0.02],[2.6,0.04],[3.5,0.15],[4.2,0.2],[6,0.29],[7.5,0.36],[8.6,0.41],[9.5,0.5],[10,0.45],[10.5,0.6],[11,0.48],[11.5,0.55],[12,0.45],[13,0.5],[14,0.44],[15.2,0.45],[17,0.44],[19,0.43],[21.7,0.43],[23,0.4],[24.3,0.35],[25.2,0.45],[26.2,0.62],[27.7,0.75],[28.5,0.82],[29.6,0.88],[30.3,0.95],[30.9,1.12],[31.3,0.9],[31.8,1.15],[32.2,1.2],[32.6,0.95],[33,1.08],[33.5,0.9],[34,1.0],[34.5,0.82],[35,0.9],[35.5,0.75],[36.1,0.8],[36.6,0.65],[37.2,0.72],[38,0.62],[38.7,0.59],[39.5,0.6],[40.5,0.5],[41.4,0.48],[42.5,0.42],[44,0.37],[45.3,0.35],[46.5,0.42],[47.9,0.48],[50.5,0.55],[53.1,0.58],[55.8,0.56],[57.5,0.52],[59.7,0.5],[61,0.59],[63.6,0.62],[66.2,0.6],[68.8,0.6],[70.2,0.51],[71.5,0.43],[72.2,0.52],[72.8,0.38],[73.4,0.54],[74,0.37],[74.7,0.5],[75.4,0.36],[76,0.48],[76.6,0.37],[77.3,0.45],[78,0.36],[78.7,0.44],[79.4,0.35],[80,0.42],[80.6,0.36],[81.4,0.4],[82.2,0.34],[83,0.38],[84.6,0.4],[85.9,0.35],[88,0.38],[90,0.42],[93.7,0.41],[97.6,0.42],[101.6,0.43],[104.2,0.41],[106.8,0.41],[109.4,0.37],[110.7,0.33],[111.2,0.6],[111.6,0.35],[112,0.7],[112.4,0.36],[112.9,0.78],[113.4,0.83],[113.9,0.4],[114.4,0.75],[114.9,0.38],[115.4,0.7],[115.9,0.37],[116.5,0.62],[117,0.36],[117.3,0.48],[118.5,0.4],[119.9,0.35],[121,0.28],[122.5,0.22],[125.1,0.14],[127,0.13],[129,0.13],[130.9,0.1],[131.7,0.25],[132.5,0.48],[133.5,0.59],[134,0.72],[134.5,0.6],[135,0.75],[135.5,0.65],[136.1,0.91],[136.6,0.68],[137.1,0.85],[137.6,0.65],[138.1,0.8],[138.7,0.62],[139.5,0.68],[140.5,0.6],[142.1,0.48],[143.5,0.42],[144.8,0.35],[147.4,0.26],[150.3,0.25],[152.6,0.22],[155.2,0.27],[157.9,0.31],[160.5,0.29],[163.1,0.26],[164.9,0.27],[165.5,0.32],[166,0.22],[166.5,0.35],[167,0.2],[167.5,0.38],[168,0.2],[168.6,0.4],[169.1,0.22],[169.6,0.41],[170.2,0.24],[170.8,0.35],[171.5,0.25],[172.3,0.25],[174.9,0.17],[177.5,0.12],[181.4,0.12],[184,0.16],[186.6,0.21],[188,0.16],[189.3,0.17],[190.5,0.26],[191.9,0.35],[193.7,0.59],[195,0.65],[195.8,0.71],[196.5,0.88],[197.1,0.95],[197.6,0.82],[198.4,1.05],[198.9,0.8],[199.4,0.95],[199.7,0.9],[200.3,0.75],[201,0.8],[201.6,0.62],[202.2,0.78],[202.8,0.6],[203.3,0.75],[203.7,0.62],[204.3,0.68],[205,0.52],[206.3,0.48],[207.5,0.44],[208.4,0.41],[210.2,0.38],[211.5,0.41],[212.8,0.43],[213.7,0.48],[214.7,0.48],[215.7,0.42],[216.8,0.42],[217.4,0.55],[217.9,0.33],[218.4,0.6],[218.9,0.32],[219.4,0.62],[219.9,0.35],[220.5,0.65],[221,0.38],[221.5,0.7],[222,0.77],[222.5,0.45],[223.3,0.68],[223.8,0.42],[224.4,0.62],[225,0.4],[225.9,0.48],[227,0.38],[228.5,0.29],[230,0.2],[231.2,0.12],[233.8,0.1],[236.4,0.2],[237,0.28],[237.5,0.18],[238,0.3],[238.5,0.2],[239,0.32],[239.5,0.17],[240,0.35],[240.5,0.2],[241,0.36],[241.5,0.21],[242,0.38],[242.5,0.22],[243,0.4],[243.5,0.22],[244.2,0.41],[244.8,0.25],[245.5,0.35],[246.2,0.23],[247,0.3],[248.2,0.22],[249.5,0.25],[250.5,0.2],[251.3,0.3],[252.1,0.39],[252.7,0.25],[253.5,0.28],[254.7,0.27],[256,0.2],[257.3,0.17],[258.5,0.15],[260,0.14],[260.6,0.05],[261.1,0.12],[261.6,0.04],[262.1,0.11],[262.6,0.06],[263.2,0.12],[263.8,0.05],[264.4,0.11],[265,0.06],[265.6,0.12],[266.2,0.07],[267,0.12],[268,0.08],[269.1,0.1],[271,0.11],[272.5,0.08],[274.3,0.12],[276,0.09],[277.5,0.12],[279.6,0.1],[281,0.12],[282.5,0.09],[284.8,0.11],[286.5,0.08],[288,0.1],[290,0.09],[291.5,0.1],[293,0.09],[295.3,0.1],[296.5,0.11],[297.5,0.09],[298.5,0.12],[299.5,0.1],[300.5,0.11],[301.5,0.09],[302.5,0.12],[303.5,0.1],[304.5,0.13],[305.8,0.13],[307,0.1],[308,0.12],[309,0.09],[311,0.07],[313.6,0.08]];
const markB2 = [[14.7,0.53],[29.6,0.83],[44.8,0.32],[60,0.56],[74.6,0.39],[90,0.36],[105.2,0.47],[119.9,0.3],[135,0.64],[150.3,0.2],[164.9,0.21],[180.1,0.06],[195,0.65],[209.7,0.35],[225.1,0.64],[239.8,0.14],[254.7,0.23],[269.9,0.12],[284.8,0.11],[300,0.04],[314.4,0.02]];

const etaB3 = [[0,0],[0.8,-0.03],[2.6,0.05],[4.7,0.12],[6.5,0.14],[7.3,0.22],[8,0.14],[9,0.18],[10,0.2],[10.5,0.27],[11,0.18],[11.5,0.3],[12,0.17],[12.6,0.25],[13.2,0.32],[13.7,0.15],[14.3,0.33],[14.8,0.14],[15.2,0.35],[15.8,0.15],[16.4,0.34],[17,0.18],[17.6,0.36],[18.2,0.2],[18.8,0.35],[19.4,0.19],[20,0.36],[20.4,0.2],[21,0.35],[21.5,0.22],[22,0.34],[22.5,0.2],[23,0.37],[23.5,0.22],[24.3,0.37],[25,0.24],[25.6,0.3],[26.2,0.15],[27,0.2],[27.7,0.22],[28.8,0.43],[29.3,0.55],[29.8,0.42],[30.4,0.62],[30.9,0.45],[31.4,0.74],[31.9,0.44],[32.4,0.65],[32.9,0.42],[33.4,0.6],[33.9,0.44],[34.8,0.46],[36,0.49],[37.4,0.51],[40,0.55],[42.7,0.59],[44,0.56],[45.3,0.54],[46.5,0.57],[47.9,0.57],[49,0.55],[50.5,0.54],[52,0.57],[53.1,0.58],[55.8,0.59],[58,0.58],[60,0.58],[63.6,0.57],[67.5,0.55],[71.5,0.54],[74.6,0.51],[76.5,0.53],[78,0.54],[81.9,0.55],[85.9,0.57],[90,0.57],[93.7,0.56],[97.6,0.56],[101.6,0.55],[104.2,0.53],[105.5,0.57],[106.8,0.63],[108.1,0.78],[110,0.91],[111,0.98],[111.5,0.9],[112,1.08],[112.5,0.92],[113,1.12],[113.5,0.95],[114.1,1.21],[114.6,0.95],[115.1,1.12],[115.6,0.9],[116,1.08],[116.5,0.88],[117.3,0.91],[118.6,0.82],[119.9,0.67],[121.2,0.55],[123,0.42],[125.1,0.28],[127.2,0.25],[129,0.24],[130.9,0.21],[132.5,0.28],[133.2,0.36],[133.7,0.28],[134.3,0.41],[134.8,0.3],[135.3,0.48],[135.6,0.5],[136.1,0.27],[136.6,0.42],[137.2,0.26],[137.7,0.35],[138.2,0.3],[140.8,0.34],[143.5,0.37],[146,0.41],[148.7,0.42],[151.3,0.41],[154,0.43],[156,0.42],[157.9,0.49],[159.7,0.62],[162.3,0.63],[163.5,0.66],[164.2,0.6],[164.9,0.68],[165.4,0.6],[165.9,0.72],[166.4,0.62],[166.9,0.74],[167.4,0.63],[167.9,0.78],[168.3,0.79],[168.8,0.64],[169.2,0.8],[169.6,0.86],[170,0.66],[170.5,0.78],[171,0.65],[171.6,0.72],[172.3,0.67],[174.9,0.57],[177.5,0.46],[180.1,0.36],[182.7,0.26],[185.3,0.24],[187.5,0.21],[189.3,0.2],[191.9,0.25],[193.7,0.33],[194.5,0.4],[195.3,0.32],[195.8,0.49],[196.4,0.36],[197.1,0.69],[197.6,0.38],[198.1,0.6],[198.6,0.4],[199.1,0.52],[199.7,0.41],[200.5,0.45],[202.4,0.43],[205,0.46],[207.6,0.53],[209.7,0.55],[211.5,0.5],[213.6,0.57],[215.4,0.67],[216.5,0.75],[217,0.7],[217.5,0.82],[218,0.84],[218.5,0.74],[219,0.9],[219.5,0.76],[219.9,0.97],[220.4,0.8],[220.9,1.02],[221.4,0.82],[222,1.09],[222.3,1.12],[222.8,0.85],[223.3,1.0],[223.8,0.82],[224.6,0.97],[225.2,0.8],[225.8,0.85],[226.7,0.75],[228.5,0.58],[230,0.46],[231.2,0.36],[233.8,0.22],[236.4,0.2],[238,0.2],[239,0.22],[240,0.32],[240.5,0.22],[241,0.33],[241.5,0.22],[242,0.35],[242.5,0.22],[243,0.34],[243.5,0.23],[244,0.36],[244.5,0.24],[245,0.35],[245.5,0.25],[246,0.37],[246.5,0.26],[247,0.36],[247.5,0.28],[248,0.37],[248.5,0.3],[249,0.38],[249.5,0.32],[250.2,0.38],[250.8,0.35],[251.5,0.4],[252.5,0.37],[253.5,0.38],[254.7,0.39],[256,0.4],[257.5,0.38],[259,0.42],[260,0.44],[261.3,0.46],[262.5,0.4],[263.9,0.41],[265,0.36],[266,0.38],[267.8,0.32],[269,0.3],[269.9,0.32],[271.7,0.29],[273,0.31],[274.5,0.28],[275.5,0.3],[277,0.28],[278.5,0.3],[280,0.27],[281,0.3],[282.2,0.28],[283.5,0.31],[284.8,0.29],[286,0.3],[287.4,0.27],[288.5,0.3],[290,0.28],[291,0.31],[292.7,0.29],[294,0.32],[295,0.3],[296.6,0.34],[297.5,0.3],[298.5,0.33],[299.5,0.31],[300.5,0.32],[301.5,0.3],[302.5,0.32],[304.5,0.29],[307,0.26],[309.7,0.22],[312.3,0.2],[313.6,0.08],[314.4,0.02]];
const markB3 = [[14.7,0.15],[29.6,0.41],[44.8,0.55],[60,0.57],[74.6,0.51],[90,0.54],[105.2,0.57],[119.9,0.63],[135,0.27],[150.3,0.38],[164.9,0.66],[180.1,0.36],[195,0.28],[209.7,0.49],[224.6,1.01],[239.8,0.16],[254.7,0.36],[269.9,0.27],[284.8,0.24],[300,0.24],[314.4,0.02]];

const etaB4 = [[0,0],[0.8,-0.01],[1.5,0.05],[2.6,0.08],[4.2,0.11],[5.2,0.25],[6.8,0.28],[8.6,0.31],[11.3,0.35],[12.6,0.34],[13.3,0.42],[13.8,0.35],[14.4,0.43],[15.2,0.35],[15.8,0.44],[16.4,0.36],[17.1,0.45],[17.8,0.36],[18.4,0.45],[19,0.35],[19.7,0.46],[20.4,0.35],[21,0.45],[21.6,0.36],[22.3,0.46],[23,0.36],[23.6,0.46],[24.3,0.36],[25,0.45],[25.7,0.36],[27,0.31],[27.8,0.35],[28.8,0.49],[29.5,0.3],[30.4,0.3],[32.2,0.32],[33.5,0.45],[34.8,0.59],[36.1,0.75],[37.4,0.8],[39.3,0.85],[41.4,0.86],[44.8,0.85],[49.2,0.86],[54.5,0.86],[60,0.87],[64.9,0.87],[70.2,0.87],[74.9,0.87],[79.3,0.85],[84.6,0.84],[90,0.83],[95,0.82],[100.3,0.82],[105.2,0.82],[106.8,0.8],[107.8,0.7],[108.9,0.62],[109.5,0.75],[110,0.55],[110.5,0.8],[111,0.6],[111.5,0.85],[112,0.65],[112.5,0.9],[113,0.7],[113.6,0.92],[114.2,0.72],[114.7,0.98],[115.3,0.7],[115.8,0.9],[116.4,0.68],[117.3,0.73],[118.6,0.62],[119.9,0.52],[122.5,0.36],[125.1,0.23],[126.4,0.15],[129,0.14],[130.9,0.09],[132.5,0.21],[133.5,0.35],[134.3,0.45],[135,0.3],[135.6,0.28],[136.5,0.35],[137.7,0.31],[139.5,0.39],[140.3,0.45],[140.8,0.4],[141.4,0.5],[142.1,0.52],[142.7,0.48],[143.3,0.58],[144,0.55],[144.8,0.62],[145.5,0.6],[147.4,0.69],[150.3,0.72],[153.9,0.7],[156.5,0.62],[159.2,0.48],[161.8,0.36],[163,0.38],[164.4,0.4],[165,0.5],[165.5,0.42],[166,0.52],[166.5,0.43],[167,0.55],[167.5,0.45],[168,0.56],[168.5,0.46],[169,0.58],[169.5,0.47],[170,0.6],[170.5,0.5],[171,0.6],[171.5,0.5],[172.2,0.55],[173.6,0.52],[176.2,0.38],[178.8,0.28],[181.4,0.19],[184,0.13],[186.6,0.12],[189.3,0.09],[191.9,0.19],[193.2,0.28],[194,0.25],[194.8,0.38],[195.3,0.3],[195.8,0.45],[196.4,0.28],[197,0.36],[198.4,0.31],[201,0.45],[203.7,0.62],[206.3,0.79],[209.7,0.83],[212.3,0.82],[214.1,0.85],[216.2,0.83],[217.5,0.62],[218.2,0.5],[218.8,0.46],[219.4,0.7],[219.9,0.5],[220.4,0.8],[220.9,0.55],[221.4,0.85],[222,0.6],[222.5,0.9],[223,0.62],[223.6,0.88],[224.2,0.6],[224.6,0.76],[225.2,0.58],[225.8,0.62],[226.7,0.52],[228.5,0.4],[231.2,0.29],[233.8,0.16],[235.5,0.12],[237.7,0.09],[239,0.15],[240.3,0.25],[240.8,0.32],[241.3,0.24],[241.8,0.34],[242.3,0.25],[242.8,0.33],[243.3,0.24],[243.8,0.34],[244.3,0.25],[244.8,0.33],[245.3,0.26],[245.8,0.35],[246.3,0.27],[246.8,0.34],[247.3,0.28],[247.8,0.35],[248.5,0.3],[249.2,0.35],[250,0.31],[250.8,0.36],[251.5,0.32],[252.5,0.36],[253.5,0.34],[254.7,0.36],[256.5,0.35],[258.6,0.33],[260,0.26],[261.3,0.21],[262,0.16],[262.5,0.22],[263,0.14],[263.5,0.2],[263.9,0.15],[264.5,0.12],[265,0.16],[265.6,0.1],[266.5,0.11],[267.5,0.09],[268.5,0.12],[269.9,0.09],[271,0.1],[272,0.08],[273,0.1],[274.3,0.1],[275.5,0.08],[276.5,0.11],[277.5,0.08],[278.5,0.1],[279.6,0.08],[281,0.1],[282,0.08],[283,0.1],[284.8,0.09],[286,0.1],[287,0.08],[288,0.11],[289,0.09],[290,0.11],[291,0.13],[291.5,0.1],[292,0.16],[292.5,0.12],[293,0.18],[293.5,0.13],[294,0.18],[294.5,0.14],[295,0.17],[295.5,0.13],[296,0.17],[296.5,0.14],[297,0.16],[297.9,0.15],[299,0.16],[300.5,0.16],[301.5,0.14],[302.5,0.17],[303.5,0.15],[304.5,0.17],[305.8,0.16],[307,0.17],[308,0.15],[309,0.17],[310,0.16],[311,0.16],[312.8,0.11],[314.4,0.05]];
const markB4 = [[14.7,0.33],[29.8,0.28],[44.8,0.85],[60,0.87],[74.9,0.87],[90,0.83],[105.2,0.82],[119.9,0.52],[135,0.26],[150.3,0.7],[164.9,0.44],[180.1,0.26],[195,0.26],[209.7,0.85],[224.6,0.89],[239.8,0.1],[254.7,0.39],[269.9,0.08],[284.8,0.08],[300,0.11],[314.4,0.05]];

// ---------- layout (pixels) ----------
const cols = [
  {left: 482, width: 1315, xmax: 320, tickPad: 26, labelOff: 207},
  {left: 2252, width: 1314, xmax: 329, tickPad: 36, labelOff: 216}
];
const rows = [
  {top: 2, bottom: 397}, {top: 397, bottom: 792}, {top: 792, bottom: 1187},
  {top: 1187, bottom: 1583}, {top: 1583, bottom: 1981}
];
// pixel rows of the top tick and of zero, per column/row
const tickPix = [
  [[53,348],[452,748],[850,1146],[1246,1542],[1646,1944]],
  [[53,348],[452,748],[850,1146],[1246,1542],[1633,1944]]
];

const triDown = {draw(ctx, size) {
  const y = Math.sqrt(size / (Math.sqrt(3) * 3));
  ctx.moveTo(0, 2 * y); ctx.lineTo(-Math.sqrt(3) * y, -y); ctx.lineTo(Math.sqrt(3) * y, -y); ctx.closePath();
}};
const symbolsB = [
  {symbol: d3.symbolSquare, r: 12.4},
  {symbol: "circle", r: 12.5},
  {symbol: triDown, r: 12},
  {symbol: triDown, r: 12},
  {symbol: d3.symbolDiamond2, r: 13}
];

const seriesA = [etaA0, etaA1, etaA2, etaA3, etaA4];
const seriesB = [etaB0, etaB1, etaB2, etaB3, etaB4];
const marksB = [markB0, markB1, markB2, markB3, markB4];

const chart = document.getElementById("chart");
const FONT = '"Liberation Serif", "Times New Roman", serif';

function drawPanel(ci, ri, data, ticks, labels, markers, sym) {
  const col = cols[ci], row = rows[ri];
  const [kPix, zPix] = tickPix[ci][ri];
  const H = row.bottom - row.top;
  const unit = (zPix - kPix) / ticks[3];
  const yLo = -(row.bottom - zPix) / unit, yHi = (zPix - row.top) / unit;
  const showX = ri === rows.length - 1;
  const mt = 10, mb = showX ? 120 : 10, ml = 260, mr = 10;
  const marks = [
    Plot.line(data, {x: d => d[0], y: d => d[1], stroke: "#2b2b2b", strokeWidth: 2.3}),
  ];
  if (markers) marks.push(Plot.dot(markers, {x: d => d[0], y: d => d[1], symbol: sym.symbol, r: sym.r, fill: "white", stroke: "#606060", strokeWidth: 2.6}));
  marks.push(
    Plot.tickY(ticks, {y: d => d, insetRight: col.width - 17, stroke: "#000", strokeWidth: 4.5}),
    Plot.tickX(timeTicks.slice(1), {x: d => d, insetTop: H - 17, stroke: "#000", strokeWidth: 3}),
    Plot.axisY(ticks, {tickSize: 0, tickPadding: col.tickPad, tickFormat: d => labels[ticks.indexOf(d)], fontSize: 65, fill: "#000"}),
    Plot.frame({stroke: "#000", strokeWidth: 3.5})
  );
  if (showX) marks.push(Plot.axisX(timeTicks, {tickSize: 0, tickPadding: 33, fontSize: 64, fill: "#000"}));
  const svg = Plot.plot({
    width: ml + col.width + mr, height: mt + H + mb,
    marginTop: mt, marginBottom: mb, marginLeft: ml, marginRight: mr,
    x: {domain: [0, col.xmax], axis: null},
    y: {domain: [yLo, yHi], axis: null},
    style: {background: "none", fontFamily: FONT, color: "#000", overflow: "visible"},
    marks
  });
  svg.classList.add("panel");
  svg.style.left = (col.left - ml) + "px";
  svg.style.top = (row.top - mt) + "px";
  svg.style.maxWidth = "none";
  // y label with subscript
  const t = d3.select(svg).append("text")
    .attr("transform", `translate(${ml - col.labelOff},${mt + H / 2}) rotate(-90)`)
    .attr("text-anchor", "middle").attr("dominant-baseline", "central")
    .attr("font-family", FONT).attr("font-size", 62).attr("fill", "#000");
  t.append("tspan").attr("font-style", "italic").attr("font-weight", "bold").text("η");
  t.append("tspan").attr("font-style", "italic").attr("font-size", 40).attr("dy", 14).text(subs[ri]);
  t.append("tspan").attr("dy", -14).text("/(°)");
  chart.appendChild(svg);
}

for (let r = 0; r < 5; r++) {
  drawPanel(0, r, seriesA[r], ticksA[r], labelsA[r], null, null);
  drawPanel(1, r, seriesB[r], ticksB[r], labelsB[r], marksB[r], symbolsB[r]);
}

function addLabel(text, cx, cy, size) {
  const d = document.createElement("div");
  d.className = "lbl";
  d.textContent = text;
  d.style.fontSize = size + "px";
  d.style.left = cx + "px";
  d.style.top = (cy - size / 2) + "px";
  chart.appendChild(d);
}
cols.forEach((c, i) => {
  const cx = c.left + c.width / 2;
  addLabel(xTitle, cx, 2133, 62);
  addLabel(captions[i], cx, 2236, 64);
});
</script></body></html>
